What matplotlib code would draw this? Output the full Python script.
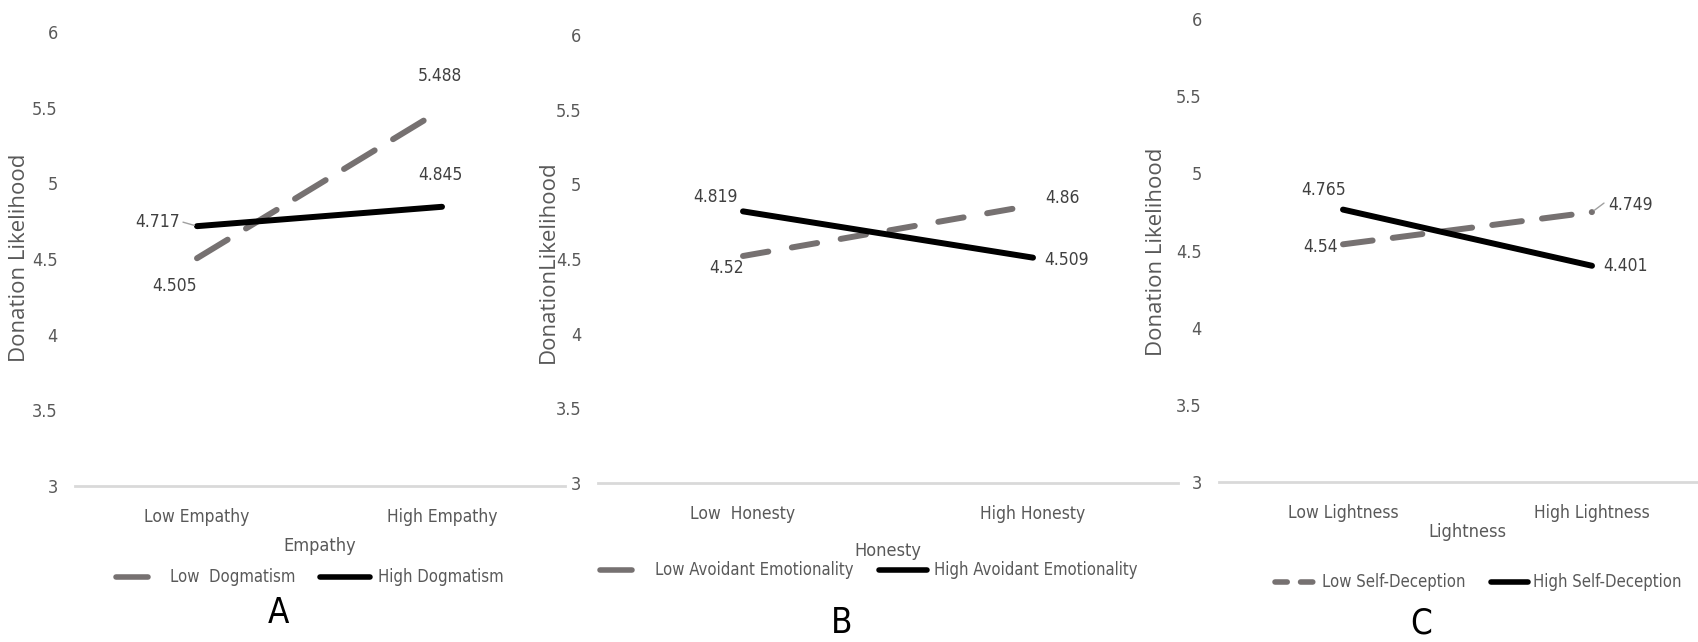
import matplotlib.pyplot as plt
from matplotlib.font_manager import FontProperties
from matplotlib.lines import Line2D

# values
levels_a = ['Low Empathy', 'High Empathy']
names_a = ['Low  Dogmatism', 'High Dogmatism']
low_dogmatism = [4.505, 5.488]
high_dogmatism = [4.717, 4.845]

levels_b = ['Low  Honesty', 'High Honesty']
names_b = ['Low Avoidant Emotionality', 'High Avoidant Emotionality']
low_avoidant = [4.52, 4.86]
high_avoidant = [4.819, 4.509]

levels_c = ['Low Lightness', 'High Lightness']
names_c = ['Low Self-Deception', 'High Self-Deception']
low_self_deception = [4.54, 4.749]
high_self_deception = [4.765, 4.401]

y_ticks = [3, 3.5, 4, 4.5, 5, 5.5, 6]

GRAY_LINE = '#767171'
TXT = '#404040'
LBL = '#595959'
W, H = 1698, 642


def narrow(size):
    return FontProperties(family='DejaVu Sans', stretch='condensed', size=size)


def wide(size):
    return FontProperties(family='Open Sans', size=size)


fig = plt.figure(figsize=(W / 100, H / 100), dpi=100)


def px_axes(left, right, top6, bottom3):
    """axes placed from pixel positions: x range, y of value 6 and of value 3"""
    return fig.add_axes([left / W, 1 - bottom3 / H, (right - left) / W, (bottom3 - top6) / H])


def draw_panel(ax, levels, low, high, title, dash, lbl_low, lbl_high, ylabel, ylabel_x, ylabel_y):
    x = range(len(levels))
    ax.plot(x, low, color=GRAY_LINE, lw=4.3, dashes=dash, dash_capstyle='round',
            solid_capstyle='round')
    ax.plot(x, high, color='black', lw=4.3, solid_capstyle='round')
    ax.set_xlim(-0.5, 1.5)
    ax.set_ylim(3, 6)
    ax.set_yticks(y_ticks)
    ax.set_yticklabels([f'{t:g}' for t in y_ticks], fontproperties=narrow(13), color=LBL)
    ax.set_xticks(list(x))
    ax.set_xticklabels(levels, fontproperties=narrow(12.5), color=LBL)
    ax.tick_params(axis='y', length=0, pad=12)
    ax.tick_params(axis='x', length=0, pad=16)
    for s in ['top', 'right', 'left']:
        ax.spines[s].set_visible(False)
    ax.spines['bottom'].set_color('#d9d9d9')
    ax.spines['bottom'].set_linewidth(2)
    ax.patch.set_alpha(0)
    # data labels
    for vals, offs in [(low, lbl_low), (high, lbl_high)]:
        for i, (v, (dx, dy, ha)) in enumerate(zip(vals, offs)):
            ax.annotate(f'{v:g}', (i, v), xytext=(dx, dy), textcoords='offset pixels',
                        ha=ha, va='center', fontproperties=narrow(12.5), color=TXT)
    ax.set_xlabel(title, fontproperties=narrow(13), color=LBL)
    fig.text(ylabel_x / W, 1 - ylabel_y / H, ylabel, rotation=90, ha='center', va='center',
             fontproperties=wide(16), color=LBL)


ax_a = px_axes(74.5, 564.5, 32, 486)
ax_b = px_axes(598, 1178, 35, 483)
ax_c = px_axes(1218.5, 1716.5, 19, 482)

draw_panel(ax_a, levels_a, low_dogmatism, high_dogmatism, 'Empathy', (6.0, 3.6),
           [(-22, -28, 'center'), (-2, 33, 'center')],
           [(-17, 4, 'right'), (-2, 32, 'center')],
           'Donation Likelihood', 20, 258)
draw_panel(ax_b, levels_b, low_avoidant, high_avoidant, 'Honesty', (4.3, 4.0),
           [(-16, -12, 'center'), (29, 7, 'center')],
           [(-27, 14, 'center'), (34, -2, 'center')],
           'DonationLikelihood', 548, 262)
draw_panel(ax_c, levels_c, low_self_deception, high_self_deception, 'Lightness', (5.0, 3.4),
           [(-5, -3, 'right'), (16, 7, 'left')],
           [(-19, 20, 'center'), (11, 0, 'left')],
           'Donation Likelihood', 1157, 252)

# axis titles sit a bit differently in each panel
ax_a.xaxis.set_label_coords(0.5, -0.112)
ax_b.xaxis.set_label_coords(0.5, -0.132)
ax_c.xaxis.set_label_coords(0.5, -0.089)

# small leader lines on two labels
ax_a.annotate('', (0, high_dogmatism[0]), xytext=(-14, 4), textcoords='offset pixels',
              arrowprops=dict(arrowstyle='-', color='#a0a0a0', lw=1, shrinkA=0, shrinkB=2))
ax_c.annotate('', (1, low_self_deception[1]), xytext=(12, 9), textcoords='offset pixels',
              arrowprops=dict(arrowstyle='-', color='#a0a0a0', lw=1, shrinkA=0, shrinkB=2))


# legends under each panel, laid out like the source (Excel) charts
def legend_row(y, names, gray_span, gray_text_x, black_span, black_text_x, gray_dash=None):
    yf = 1 - y / H
    for span, tx, name, color, dash in [(gray_span, gray_text_x, names[0], GRAY_LINE, gray_dash),
                                        (black_span, black_text_x, names[1], 'black', None)]:
        ln = Line2D([span[0] / W, span[1] / W], [yf, yf], transform=fig.transFigure,
                    color=color, lw=4, solid_capstyle='round', dash_capstyle='round')
        if dash:
            ln.set_dashes(dash)
        fig.add_artist(ln)
        fig.text(tx / W, yf, name, ha='left', va='center', fontproperties=narrow(12), color=LBL)


legend_row(577, names_a, (116, 148), 170, (320, 370), 378)
legend_row(570, names_b, (600, 632), 655, (879, 927), 934)
legend_row(582, names_c, (1275, 1318), 1322, (1491, 1528), 1533, gray_dash=(2.2, 2.4))

# panel letters
for letter, cx, cy in [('A', 278, 613), ('B', 842, 623), ('C', 1421, 623)]:
    fig.text(cx / W, 1 - cy / H, letter, ha='center', va='center',
             fontproperties=narrow(25), color='black')

fig.savefig('out.png', dpi=100, facecolor='white')
